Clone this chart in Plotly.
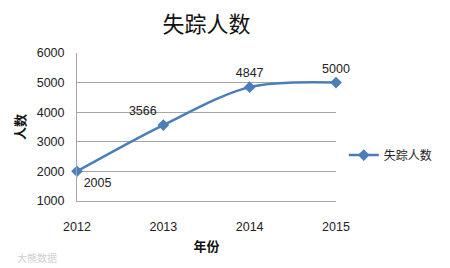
import plotly.graph_objects as go

years = [2012, 2013, 2014, 2015]
missing = [2005, 3566, 4847, 5000]
label_pos = ["bottom right", "top left", "top center", "top center"]
y_ticks = [1000, 2000, 3000, 4000, 5000, 6000]

font_cjk = "Noto Sans CJK SC, Microsoft YaHei, sans-serif"
font_num = "Liberation Sans, Arial, sans-serif"
blue = "#4A7EBB"

fig = go.Figure()
fig.add_trace(go.Scatter(
    x=years, y=missing, name="失踪人数",
    mode="lines+markers+text",
    line=dict(color=blue, width=2.5, shape="spline", smoothing=0.9),
    marker=dict(symbol="diamond", size=9, color=blue),
    text=[str(v) for v in missing],
    textposition=label_pos,
    textfont=dict(family=font_num, size=12.5, color="#222"),
    cliponaxis=False,
))

fig.update_layout(
    width=450, height=268,
    margin=dict(l=77, r=106, t=53, b=67),
    paper_bgcolor="white", plot_bgcolor="white",
    title=dict(text="失踪人数", x=0.5, xref="paper", xanchor="center",
               y=0.91, yanchor="middle",
               font=dict(family=font_cjk, size=22, color="#111")),
    xaxis=dict(
        range=[2012, 2015], tickvals=years, ticktext=[str(y) for y in years],
        showgrid=False, zeroline=False, showline=True, linecolor="#A6A6A6", linewidth=1,
        ticks="outside", ticklen=14, tickcolor="rgba(0,0,0,0)",
        tickfont=dict(family=font_num, size=12.5, color="#222"),
        title=dict(text="<b>年份</b>", font=dict(family=font_cjk, size=13, color="#111"), standoff=8),
    ),
    yaxis=dict(
        range=[1000, 6000], tickvals=y_ticks,
        showgrid=True, gridcolor="#A6A6A6", gridwidth=1,
        zeroline=False, showline=True, linecolor="#A6A6A6", linewidth=1,
        ticks="outside", ticklen=9, tickcolor="rgba(0,0,0,0)",
        tickfont=dict(family=font_num, size=12.5, color="#222"),
        title=dict(text="<b>人数</b>", font=dict(family=font_cjk, size=13, color="#111"), standoff=8),
    ),
    showlegend=True,
    legend=dict(x=1.03, xanchor="left", y=0.31, yanchor="middle",
                font=dict(family=font_cjk, size=12, color="#222"),
                bgcolor="rgba(0,0,0,0)"),
)

fig.add_annotation(text="大熊数据", xref="paper", yref="paper", x=-0.24, y=-0.38,
                   xanchor="left", yanchor="middle", showarrow=False,
                   font=dict(family=font_cjk, size=10, color="#D0D0D0"))

fig.write_html("out.html")
